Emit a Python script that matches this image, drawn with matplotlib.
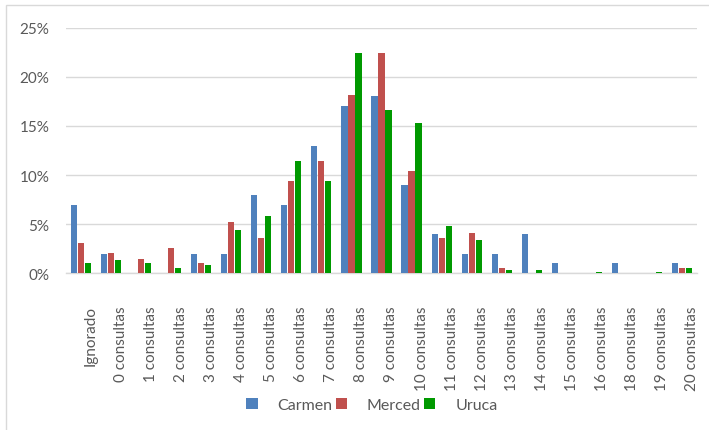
import numpy as np, matplotlib
matplotlib.use("Agg")
import matplotlib.pyplot as plt
import matplotlib.transforms as mtrans
from matplotlib.patches import Rectangle

plt.rcParams['font.family'] = ['Lato', 'DejaVu Sans']

cats = ["Ignorado", "0 consultas", "1 consultas", "2 consultas", "3 consultas", "4 consultas",
        "5 consultas", "6 consultas", "7 consultas", "8 consultas", "9 consultas", "10 consultas",
        "11 consultas", "12 consultas", "13 consultas", "14 consultas", "15 consultas",
        "16 consultas", "18 consultas", "19 consultas", "20 consultas"]
carmen = [7, 2, 0, 0, 2, 2, 8, 7, 13, 17, 18, 9, 4, 2, 2, 4, 1, 0, 1, 0, 1]
merced = [3.1, 2.1, 1.5, 2.6, 1.0, 5.2, 3.6, 9.4, 11.4, 18.2, 22.4, 10.4, 3.6, 4.1, 0.5, 0, 0, 0, 0, 0, 0.5]
uruca  = [1.0, 1.4, 1.0, 0.5, 0.8, 4.4, 5.8, 11.4, 9.4, 22.4, 16.6, 15.3, 4.8, 3.4, 0.3, 0.3, 0, 0.15, 0, 0.15, 0.5]
series = [("Carmen", carmen, "#4F81BD"), ("Merced", merced, "#C0504D"), ("Uruca", uruca, "#009900")]
GRAY = "#595959"

fig = plt.figure(figsize=(7.09, 4.31), dpi=100)
W, H = 709, 431
ax = fig.add_axes([66/W, 1-274.3/H, (697-66)/W, (274.3-28.7)/H])
x = np.arange(len(cats)); w = 0.233
for i, (name, vals, col) in enumerate(series):
    ax.bar(x+(i-1)*w, vals, w*0.88, color=col, lw=0, label=name, zorder=3)

ax.set_xlim(-0.5, len(cats)-0.5); ax.set_ylim(0, 25)
ax.set_yticks(range(0, 26, 5)); ax.set_yticklabels([f"{v}%" for v in range(0, 26, 5)])
ax.grid(axis="y", color="#D9D9D9", lw=1.0, zorder=0)
for s in ("top", "right", "left"): ax.spines[s].set_visible(False)
ax.spines["bottom"].set_color("#D9D9D9"); ax.spines["bottom"].set_linewidth(1.0)
ax.set_xticks(x); ax.set_xticklabels(cats, rotation=90, va="top", ha="center")
ax.tick_params(axis="x", length=0, pad=23, labelsize=11, labelcolor=GRAY)
ax.tick_params(axis="y", length=0, pad=12, labelsize=11, labelcolor=GRAY)
off = mtrans.ScaledTranslation(10/100, 0, fig.dpi_scale_trans)
for lab in ax.get_xticklabels():
    lab.set_transform(lab.get_transform()+off)

ax.legend(loc="center", bbox_to_anchor=(372/W, 1-406/H), bbox_transform=fig.transFigure,
          ncol=3, frameon=False, fontsize=11.5, labelcolor=GRAY, handlelength=0.7,
          handleheight=0.7, handletextpad=1.25, columnspacing=0.2)

fig.patches.append(Rectangle((6/W, -0.1), 1.2, 1-6/H+0.1, transform=fig.transFigure,
                             fill=False, edgecolor="#D9D9D9", lw=1.0))
fig.savefig("out.png", dpi=100)
